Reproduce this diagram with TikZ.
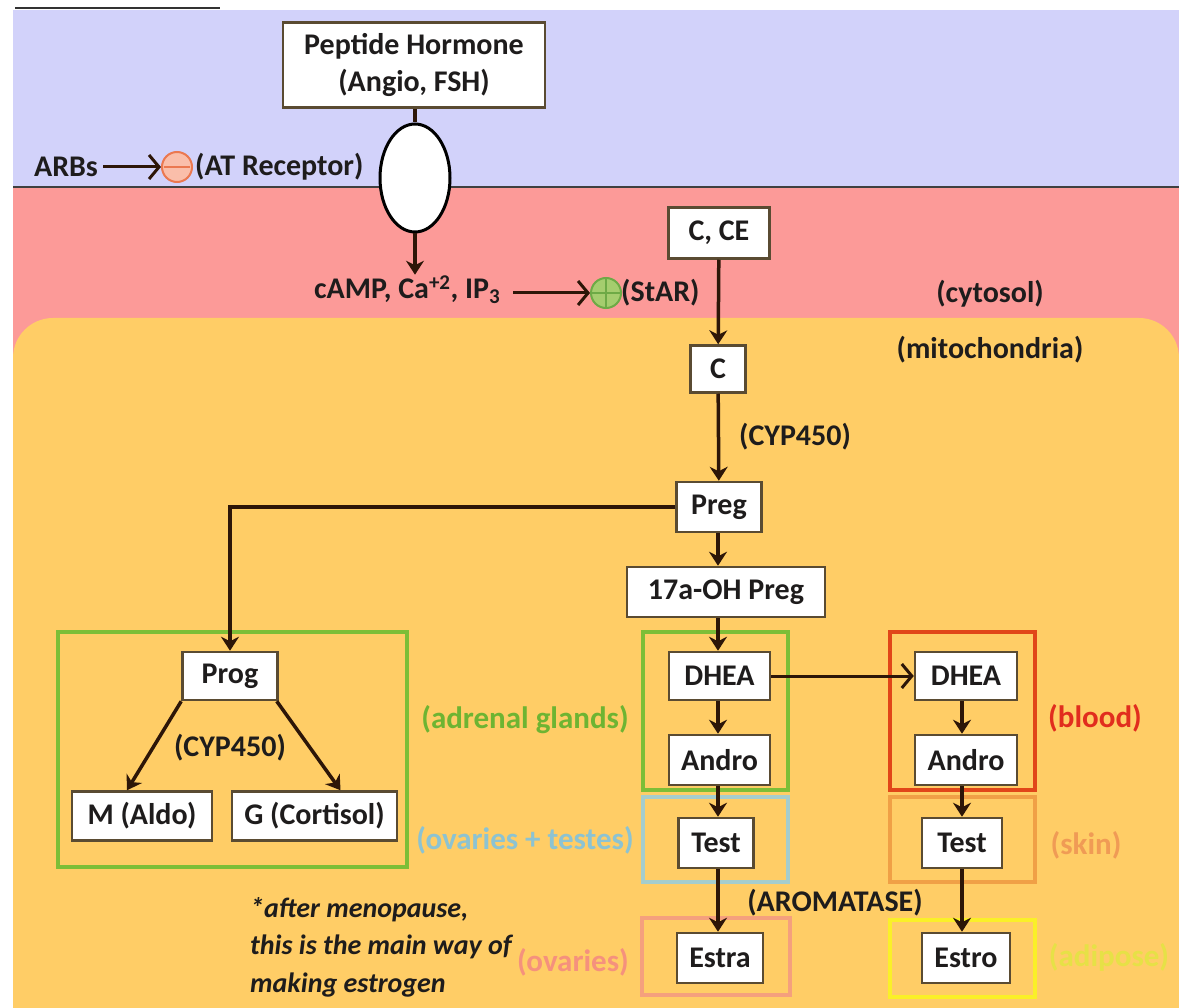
\documentclass[tikz,border=0pt]{standalone}
\usepackage{fontspec}
\setmainfont{Carlito}
\usetikzlibrary{arrows.meta,shapes.geometric,calc}
\definecolor{purp}{RGB}{210,210,250}
\definecolor{pinkbg}{RGB}{252,154,152}
\definecolor{yellowbg}{RGB}{255,205,102}
\definecolor{boxc}{RGB}{90,75,50}
\definecolor{arrc}{RGB}{45,22,8}
\definecolor{txtc}{RGB}{30,28,28}
\definecolor{grnF}{RGB}{125,190,55}
\definecolor{blueF}{RGB}{165,205,205}
\definecolor{salF}{RGB}{245,160,125}
\definecolor{redF}{RGB}{225,70,25}
\definecolor{orgF}{RGB}{240,160,70}
\definecolor{yelF}{RGB}{250,240,40}
\definecolor{grnT}{RGB}{110,180,50}
\definecolor{blueT}{RGB}{140,195,210}
\definecolor{salT}{RGB}{245,145,125}
\definecolor{redT}{RGB}{225,45,30}
\definecolor{orgT}{RGB}{240,155,85}
\definecolor{yelT}{RGB}{230,225,70}
\definecolor{minusc}{RGB}{235,120,80}
\definecolor{minusf}{RGB}{250,190,170}
\definecolor{plusc}{RGB}{110,170,70}
\definecolor{plusf}{RGB}{165,205,110}
\begin{document}
\begin{tikzpicture}[x=1pt,y=-1pt,
  box/.style={draw=boxc, line width=2.5pt, fill=white, text=txtc,
    font=\fontsize{30}{37}\selectfont\bfseries, inner sep=2pt},
  txt/.style={text=txtc, font=\fontsize{30}{36}\selectfont\bfseries, inner sep=1pt},
  lbl/.style={font=\fontsize{31}{36}\selectfont\bfseries, inner sep=1pt},
  frame/.style={line width=4pt, inner sep=0pt},
  arr/.style={draw=arrc, line width=3.5pt, -{Stealth[length=14pt,width=18pt]}},
  harr/.style={draw=arrc, line width=3pt, -{Straight Barb[length=10pt,width=24pt,line width=3pt]}},
  ln/.style={draw=arrc, line width=3.5pt}]
\useasboundingbox (0,0) rectangle (1179,1008);
\clip (0,0) rectangle (1179,1008);
\fill[white] (0,0) rectangle (1179,1008);
\fill[purp] (13,10) rectangle (1179,187);
\fill[pinkbg] (13,187) rectangle (1179,1008);
\fill[yellowbg, rounded corners=40pt] (13,318) rectangle (1179,1060);
\draw[gray!50!black, line width=1.5pt] (13,187) -- (1179,187);
\draw[black!80, line width=2pt] (15,8) -- (220,8);

% membrane area
\node[box, minimum width=262pt, minimum height=85pt, align=center] (pep) at (414,65) {Peptide Hormone\\(Angio, FSH)};
\node[draw=black, line width=3pt, fill=white, ellipse, minimum width=70pt, minimum height=108pt] (rec) at (415,178) {};
\draw[ln] (pep.south -| rec.north) -- (rec.north);

\node[txt] (arbs) at (66,167) {ARBs};
\node[circle, draw=minusc, fill=minusf, line width=2pt, minimum size=30pt, inner sep=0pt] (minus) at (177,167) {};
\draw[minusc, line width=2pt] ([xshift=3pt]minus.west) -- ([xshift=-3pt]minus.east);
\node[txt, anchor=west] (atr) at (194,167) {(AT Receptor)};
\draw[harr, shorten <=4pt] (arbs) -- (minus);

\node[txt, anchor=west] (camp) at (313,290) {cAMP, Ca\textsuperscript{+2}, IP\textsubscript{3}};
\draw[arr] (rec.south) -- (rec.south |- camp.north);
\node[circle, draw=plusc, fill=plusf, line width=2pt, minimum size=30pt, inner sep=0pt] (plus) at (606,293) {};
\draw[plusc, line width=2pt] ([xshift=2pt]plus.west) -- ([xshift=-2pt]plus.east);
\draw[plusc, line width=2pt] ([yshift=-2pt]plus.north) -- ([yshift=2pt]plus.south);
\node[txt, anchor=west] (star) at (620,293) {(StAR)};
\draw[harr, shorten <=12pt] (camp.east |- plus) -- (plus);

% main chain
\node[box, minimum width=101pt, minimum height=51pt] (cce) at (719,233) {C, CE};
\node[box, minimum width=55pt, minimum height=47pt] (c) at (718,369) {C};
\draw[arr] (cce) -- (c);
\node[txt] (cyto) at (990,294) {(cytosol)};
\node[txt] (mito) at (990,350) {(mitochondria)};
\node[box, minimum width=85pt, minimum height=50pt] (preg) at (719,507) {Preg};
\draw[arr] (c) -- (preg);
\node[txt, anchor=west] (cyp1) at (738,437) {(CYP450)};
\node[box, minimum width=198pt, minimum height=50pt] (oh) at (726,592) {17a-OH Preg};
\draw[arr] (preg.south -| c) -- (oh.north -| c);

% frames
\node[frame, draw=grnF, minimum width=349pt, minimum height=235pt] (adrF) at (232.5,749.5) {};
\node[frame, draw=grnF, minimum width=145pt, minimum height=158pt] (midF) at (715.5,711) {};
\node[frame, draw=blueF, line width=3.5pt, minimum width=145pt, minimum height=85pt] (ovtF) at (715.5,839.5) {};
\node[frame, draw=salF, line width=3.5pt, minimum width=148pt, minimum height=77pt] (ovF) at (716,956.5) {};
\node[frame, draw=redF, minimum width=145pt, minimum height=158pt] (bloodF) at (962.5,711) {};
\node[frame, draw=orgF, line width=3.5pt, minimum width=145pt, minimum height=85pt] (skinF) at (962.5,839.5) {};
\node[frame, draw=yelF, line width=3.5pt, minimum width=145pt, minimum height=77pt] (adipF) at (962.5,958.5) {};

% left branch
\node[box, minimum width=95pt, minimum height=48pt] (prog) at (230,676) {Prog};
\draw[arr] (preg.west) -| (prog.north);
\node[box, minimum width=140pt, minimum height=49pt] (m) at (142,816) {M (Aldo)};
\node[box, minimum width=165pt, minimum height=49pt] (g) at (314.5,816) {G (Cortisol)};
\draw[arr] (prog.south west) -- ([xshift=-15pt]m.north);
\draw[arr] ([xshift=-2pt]prog.south east) -- ([xshift=26pt]g.north);
\node[txt] (cyp2) at (230,748) {(CYP450)};

% middle column
\node[box, minimum width=101pt, minimum height=48pt] (dhea) at (719.5,676) {DHEA};
\node[box, minimum width=101pt, minimum height=50pt] (andro) at (719.5,760) {Andro};
\node[box, minimum width=75pt, minimum height=50pt] (test) at (716,843) {Test};
\node[box, minimum width=86pt, minimum height=50pt] (estra) at (720,958) {Estra};
\draw[arr] (oh.south -| c) -- (dhea.north -| c);
\draw[arr] (dhea.south -| c) -- (andro.north -| c);
\draw[arr] (andro.south -| c) -- (test.north -| c);
\draw[arr] (test.south -| c) -- (estra.north -| c);
\node[txt] (arom) at (835,903) {(AROMATASE)};

% right column
\node[box, minimum width=102pt, minimum height=48pt] (dhea2) at (966,676) {DHEA};
\node[box, minimum width=102pt, minimum height=50pt] (andro2) at (966,760) {Andro};
\node[box, minimum width=80pt, minimum height=50pt] (test2) at (962,843) {Test};
\node[box, minimum width=88pt, minimum height=50pt] (estro) at (966,958) {Estro};
\draw[harr] (dhea) -- (dhea2);
\draw[arr] (dhea2.south -| test2) -- (andro2.north -| test2);
\draw[arr] (andro2.south -| test2) -- (test2.north);
\draw[arr] (test2.south) -- (estro.north -| test2);

% location labels
\node[lbl, text=grnT] (lad) at (525,720) {(adrenal glands)};
\node[lbl, text=blueT] (lovt) at (525,840) {(ovaries + testes)};
\node[lbl, text=salT] (lov) at (573,962) {(ovaries)};
\node[lbl, text=redT] (lbl) at (1095,718) {(blood)};
\node[lbl, text=orgT] (lsk) at (1086,845) {(skin)};
\node[lbl, text=yelT] (lad2) at (1109,957) {(adipose)};

% footnote
\node[text=txtc, anchor=north west, align=left, inner sep=0pt,
  font=\fontsize{28}{37.5}\selectfont\bfseries\itshape] (note) at (250,897)
  {*after menopause,\\this is the main way of\\making estrogen};
\end{tikzpicture}
\end{document}
